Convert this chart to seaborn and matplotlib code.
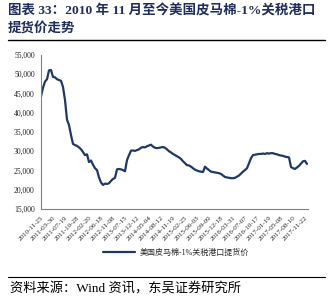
import matplotlib
matplotlib.use("Agg")
import matplotlib.pyplot as plt
import seaborn as sns
import pandas as pd
from matplotlib.lines import Line2D

tick_labels = ["2010-11-25", "2011-03-30", "2011-07-19", "2011-10-28", "2012-02-20",
               "2012-06-18", "2012-11-08", "2013-07-15", "2013-12-12", "2014-05-04",
               "2014-08-12", "2014-11-19", "2015-02-25", "2015-06-03", "2015-09-09",
               "2015-12-18", "2016-03-31", "2016-07-07", "2016-10-17", "2017-01-19",
               "2017-05-08", "2017-08-10", "2017-11-22"]

prices = [44200, 46500, 48100, 48700, 51000, 51100, 49300, 49200, 48700, 48500,
          48300, 46700, 43300, 38200, 36800, 34200, 31900, 31600, 31400, 31000,
          30500, 29800, 29000, 29200, 27200, 27600, 26500, 25600, 25100, 23200,
          21900, 21250, 21600, 21500, 21700, 22300, 22800, 23100, 25300, 25400,
          25300, 25100, 24800, 27700, 29000, 30150, 30200, 30100, 30300, 30500,
          30900, 31100, 31000, 31300, 31500, 31700, 31200, 30900, 30800, 30900,
          31000, 31100, 30900, 30500, 30000, 29700, 29300, 29000, 28700, 28400,
          28000, 27400, 26900, 26400, 26300, 26000, 25600, 25200, 25000, 24800,
          24700, 24600, 26000, 25500, 25100, 24700, 24600, 24500, 24400, 24300,
          24100, 23700, 23300, 23200, 23100, 23000, 23000, 23100, 23400, 23700,
          24200, 24700, 25100, 25600, 26900, 28200, 29000, 29100, 29200, 29300,
          29300, 29400, 29300, 29500, 29400, 29500, 29500, 29300, 29200, 29000,
          28900, 28800, 28600, 28500, 28400, 25900, 25600, 25400, 25800, 26200,
          26800, 27400, 27500, 26700]

series_name = "美国皮马棉-1%关税港口提货价"
tick_step = 6

sns.set_theme(style="white")
plt.rcParams['font.family'] = ['Liberation Serif', 'Noto Sans CJK SC', 'DejaVu Sans']

df = pd.DataFrame({"idx": range(len(prices)), "price": prices, "series": series_name})

fig = plt.figure(figsize=(3.32, 3.02), dpi=100)
ax = fig.add_axes([41/332, 1 - 209/302, (308 - 41)/332, (209 - 55)/302])

navy = "#1f3864"
sns.lineplot(data=df, x="idx", y="price", hue="series", palette=[navy],
             linewidth=1.6, ax=ax, legend=False)

ax.set_xlim(0, len(prices) - 0.5)
ax.set_ylim(15000, 55000)
ax.set_yticks(range(15000, 55001, 5000))
ax.set_yticklabels([f"{v:,}" for v in range(15000, 55001, 5000)], fontsize=5.5)
ax.set_xticks(range(0, tick_step * len(tick_labels), tick_step))
ax.set_xticklabels(tick_labels, rotation=45, ha="right", rotation_mode="anchor", fontsize=5)
ax.set_xlabel("")
ax.set_ylabel("")
for s in ["top", "right"]:
    ax.spines[s].set_visible(False)
for s in ["left", "bottom"]:
    ax.spines[s].set_color("#808080")
    ax.spines[s].set_linewidth(0.8)
ax.tick_params(axis="both", which="both", direction="out", length=2.5, width=0.6,
               color="#808080", pad=2, labelcolor="#222222")

handle = Line2D([], [], color=navy, linewidth=1.6)
fig.legend([handle], [series_name], loc="center", bbox_to_anchor=(0.53, 1 - 253/302),
           frameon=False, fontsize=5.8, handlelength=4, handletextpad=0.6)

title_font = ['Liberation Serif', 'Noto Sans CJK SC', 'DejaVu Sans']
fig.text(8/332, 1 - 11/302, "图表 33：2010 年 11 月至今美国皮马棉-1%关税港口",
         fontsize=9.7, fontweight="bold", color="#1f2d5c", family=title_font,
         ha="left", va="center")
fig.text(8/332, 1 - 29/302, "提货价走势",
         fontsize=9.7, fontweight="bold", color="#1f2d5c", family=title_font,
         ha="left", va="center")
fig.add_artist(Line2D([8/332, 325/332], [1 - 40/302, 1 - 40/302], color="black", linewidth=1.0,
                      transform=fig.transFigure))
fig.add_artist(Line2D([8/332, 325/332], [1 - 277/302, 1 - 277/302], color="black", linewidth=0.8,
                      transform=fig.transFigure))
fig.text(10/332, 1 - 289/302, "资料来源：Wind 资讯，东吴证券研究所",
         fontsize=9.5, color="black", family=title_font, ha="left", va="center")

fig.savefig("out.png", dpi=100)
